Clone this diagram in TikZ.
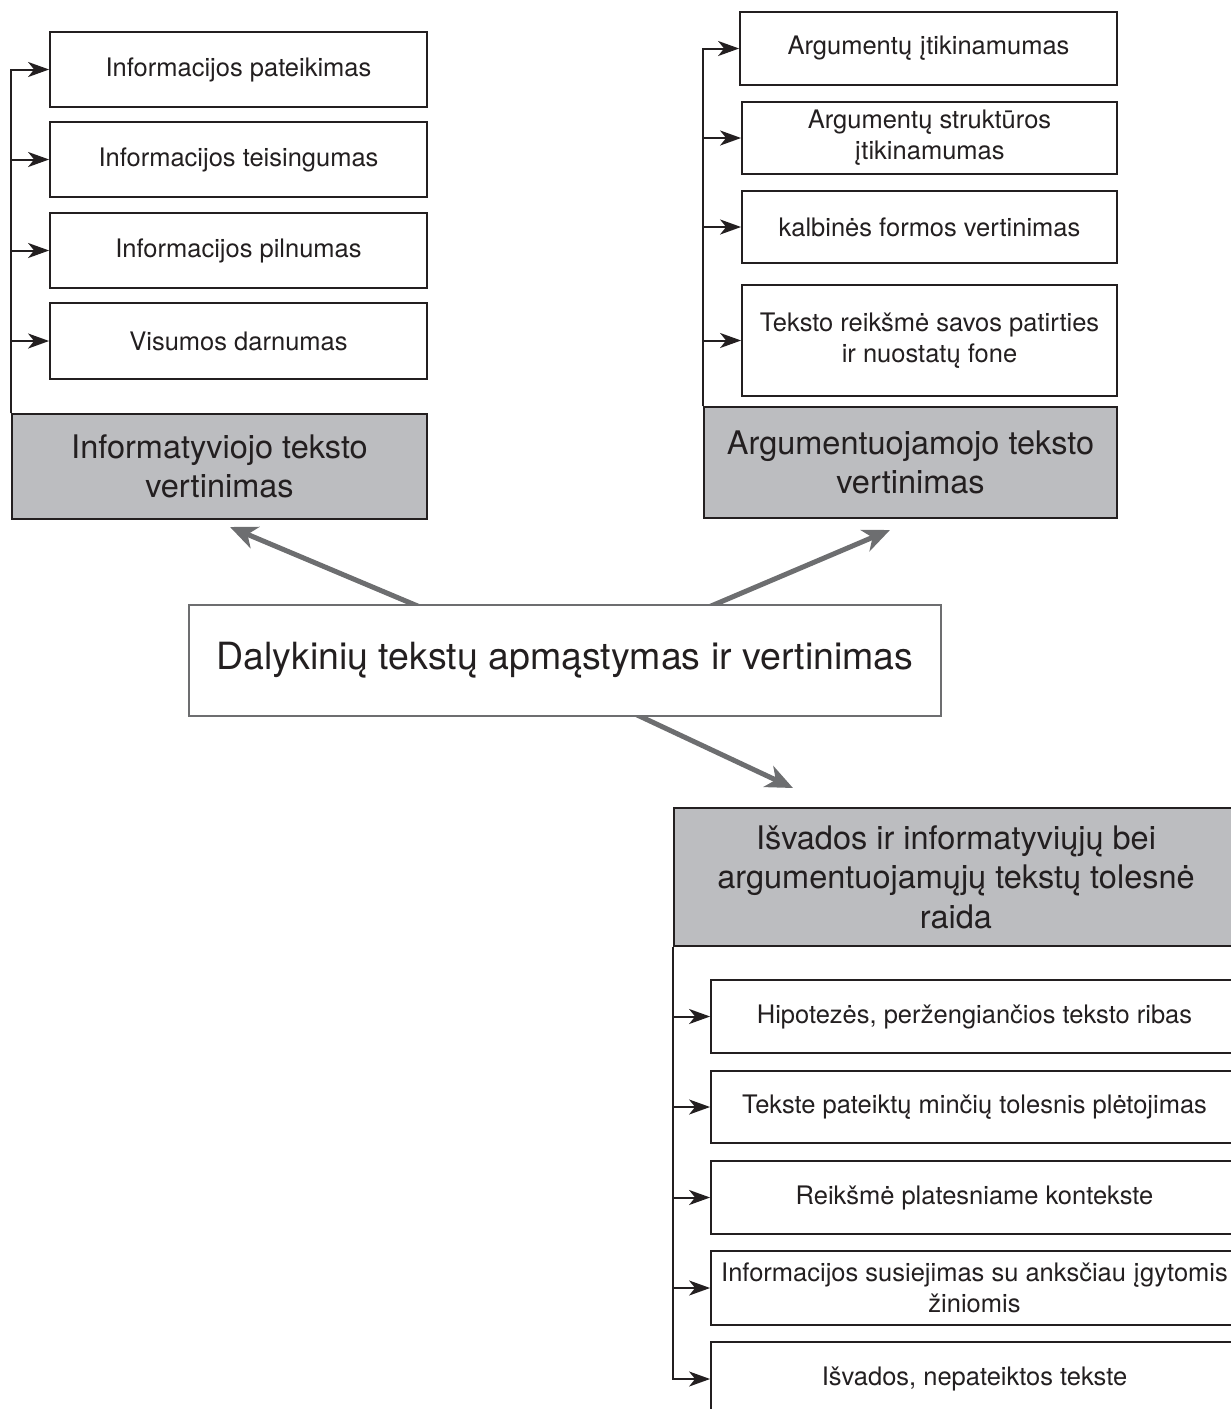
\documentclass[tikz,border=0pt]{standalone}
\usepackage{fontspec}
\setmainfont{TeX Gyre Heros}
\usetikzlibrary{arrows.meta}
\definecolor{ink}{HTML}{231F20}
\definecolor{boxgray}{HTML}{BCBDC0}
\definecolor{arrgray}{HTML}{6D6E70}
\pgfdeclarelayer{bg}
\pgfsetlayers{bg,main}
\begin{document}
\begin{tikzpicture}[x=1pt,y=-1pt,
  box/.style={draw=ink, line width=1.8pt, fill=white, inner sep=0pt, align=center, text=ink,
    font=\fontsize{25.5}{31}\selectfont},
  head/.style={box, fill=boxgray, font=\fontsize{32.5}{39.5}\selectfont},
  midbox/.style={box, draw=arrgray, line width=2.2pt, font=\fontsize{37.5}{44}\selectfont},
  feed/.style={draw=ink, line width=2pt, -{Stealth[length=21pt,width=15pt,inset=6pt]}},
  big/.style={draw=arrgray, line width=5pt, -{Stealth[length=27pt,width=23pt,inset=8pt]}}]
\useasboundingbox (0,0) rectangle (1231,1409);
\clip (0,0) rectangle (1231,1409);
% left column
\node[box, minimum width=377pt, minimum height=75pt] (b1) at (238.5,69.5) {Informacijos pateikimas};
\node[box, minimum width=377pt, minimum height=75pt] (b2) at (238.5,159.5) {Informacijos teisingumas};
\node[box, minimum width=377pt, minimum height=75pt] (b3) at (238.5,250.5) {Informacijos pilnumas};
\node[box, minimum width=377pt, minimum height=76pt] (b4) at (238.5,341) {Visumos darnumas};
\node[head, minimum width=415pt, minimum height=105pt] (gL) at (219.5,466.5) {Informatyviojo teksto\\vertinimas};
\foreach \n in {b1,b2,b3,b4} \draw[feed] (gL.north west) |- (\n.west);
% right column
\node[box, minimum width=377pt, minimum height=73pt] (r1) at (928.5,48.5) {Argumentų įtikinamumas};
\node[box, minimum width=375pt, minimum height=72pt] (r2) at (929.5,138) {Argumentų struktūros\\įtikinamumas};
\node[box, minimum width=375pt, minimum height=72pt] (r3) at (929.5,227) {kalbinės formos vertinimas};
\node[box, minimum width=375pt, minimum height=111pt] (r4) at (929.5,340.5) {Teksto reikšmė savos patirties\\ir nuostatų fone};
\node[head, minimum width=413pt, minimum height=111pt] (gR) at (910.5,462.5) {Argumentuojamojo teksto\\vertinimas};
\foreach \n in {r1,r2,r3,r4} \draw[feed] (gR.north west) |- (\n.west);
% middle
\node[midbox, minimum width=752pt, minimum height=111pt] (mid) at (565,660.5) {Dalykinių tekstų apmąstymas ir vertinimas};
% bottom right
\node[head, minimum width=564pt, minimum height=138pt] (gB) at (956,877) {Išvados ir informatyviųjų bei\\argumentuojamųjų tekstų tolesnė\\raida};
\node[box, minimum width=527pt, minimum height=73pt] (c1) at (974.5,1016.5) {Hipotezės, peržengiančios teksto ribas};
\node[box, minimum width=527pt, minimum height=72pt] (c2) at (974.5,1107) {Tekste pateiktų minčių tolesnis plėtojimas};
\node[box, minimum width=527pt, minimum height=73pt] (c3) at (974.5,1197.5) {Reikšmė platesniame kontekste};
\node[box, minimum width=527pt, minimum height=74pt] (c4) at (974.5,1288) {Informacijos susiejimas su anksčiau įgytomis\\žiniomis};
\node[box, minimum width=527pt, minimum height=74pt] (c5) at (974.5,1379) {Išvados, nepateiktos tekste};
\foreach \n in {c1,c2,c3,c4,c5} \draw[feed] (gB.south west) |- (\n.west);
% big arrows
\coordinate (tL) at (230,527);
\coordinate (tR) at (890,530);
\coordinate (tB) at (793,788);
\begin{pgfonlayer}{bg}
\draw[big] ([xshift=239pt,yshift=-6pt]mid.north west) -- (tL);
\draw[big] ([xshift=514pt,yshift=-6pt]mid.north west) -- (tR);
\draw[big] ([xshift=441pt,yshift=6pt]mid.south west) -- (tB);
\end{pgfonlayer}
\end{tikzpicture}
\end{document}
